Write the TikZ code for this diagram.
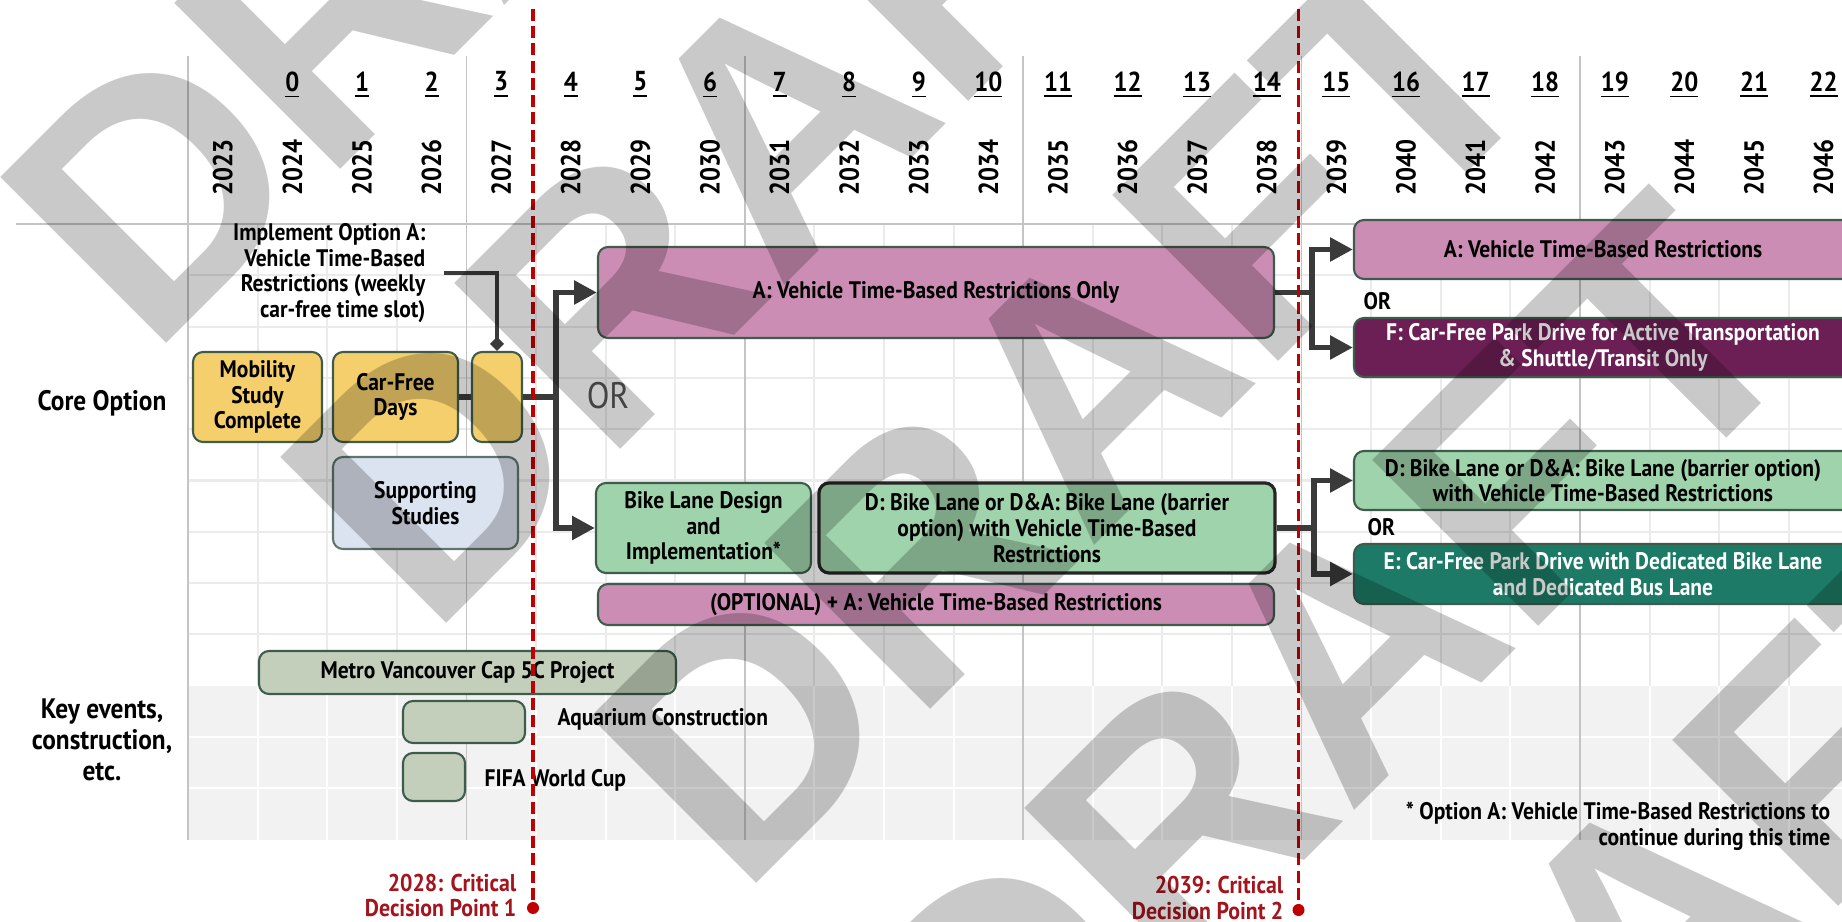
\documentclass[tikz,border=0pt]{standalone}
\usepackage{fontspec}
\setmainfont{PT Sans}[FakeStretch=0.9]
\newfontfamily\wmfont{Liberation Sans}
\usetikzlibrary{arrows.meta}

\definecolor{gridmajor}{HTML}{C4C4C4}
\definecolor{gridminor}{HTML}{EBEBEB}
\definecolor{bandgrey}{HTML}{F2F2F2}
\definecolor{edge}{HTML}{3E5B4C}
\definecolor{yellowbox}{HTML}{F5CF6C}
\definecolor{studybox}{HTML}{DCE3F0}
\definecolor{pinkbox}{HTML}{CC8DB5}
\definecolor{greenbox}{HTML}{9FD3AC}
\definecolor{sagebox}{HTML}{C3CFBA}
\definecolor{purplebox}{HTML}{6C1F55}
\definecolor{tealbox}{HTML}{1C7A66}
\definecolor{linkgrey}{HTML}{3A3A3A}
\definecolor{critred}{HTML}{C00000}
\definecolor{critlabel}{HTML}{A3141C}
\definecolor{ortext}{HTML}{555555}

\begin{document}
\begin{tikzpicture}[x=0.01cm, y=-0.01cm,
  box/.style={draw=edge, line width=0.6pt, rounded corners=0.1cm, align=center, inner sep=0pt, font=\bfseries\fontsize{6.8}{7.3}\selectfont},
  boxsize/.style 2 args={minimum width=#1*\px, minimum height=#2*\px},
  yearlab/.style={rotate=90, font=\bfseries\fontsize{7.8}{8}\selectfont},
  idxlab/.style={font=\bfseries\fontsize{7.8}{8}\selectfont},
  rowlab/.style={align=center, font=\bfseries\fontsize{8}{8.8}\selectfont},
  notelab/.style={align=right, inner sep=0pt, font=\bfseries\fontsize{6.8}{7.3}\selectfont},
  critlab/.style={align=right, inner sep=0pt, text=critlabel, font=\bfseries\fontsize{6.9}{7.3}\selectfont},
  trunk/.style={draw=linkgrey, line width=1.7pt},
  branch/.style={trunk, -{Triangle[length=6.5pt, width=6.5pt]}},
  notelink/.style={draw=linkgrey, line width=0.9pt, -{Diamond[length=4pt, width=4pt]}},
  critline/.style={draw=critred, line width=1.1pt, dash pattern=on 3.4pt off 1.5pt},
  critdot/.style={circle, fill=critred, inner sep=0pt, minimum size=12*\px},
  wmark/.style={rotate=45, anchor=base west, inner sep=0pt, text=black, text opacity=0.21, font=\wmfont\bfseries\fontsize{97}{97}\selectfont}
]
\def\px{0.01cm} % one pixel of the page

% Page frame
\useasboundingbox (0,0) rectangle (1842,922);

% Shade the key events band
\fill[bandgrey] (188,685.7) rectangle (1842,839.6);

% Light grid in the timeline body
\draw[gridminor, line width=0.6pt] (257.6,224) -- (257.6,685.7) (327.2,224) -- (327.2,685.7) (396.8,224) -- (396.8,685.7)
  (536,224) -- (536,685.7) (605.6,224) -- (605.6,685.7) (675.2,224) -- (675.2,685.7)
  (814.4,224) -- (814.4,685.7) (884,224) -- (884,685.7) (953.6,224) -- (953.6,685.7)
  (1092.8,224) -- (1092.8,685.7) (1162.4,224) -- (1162.4,685.7) (1232,224) -- (1232,685.7)
  (1371.2,224) -- (1371.2,685.7) (1440.8,224) -- (1440.8,685.7) (1510.4,224) -- (1510.4,685.7)
  (1649.6,224) -- (1649.6,685.7) (1719.2,224) -- (1719.2,685.7) (1788.8,224) -- (1788.8,685.7);
\draw[gridminor, line width=0.6pt] (188,275.3) -- (1842,275.3) (188,326.6) -- (1842,326.6) (188,377.9) -- (1842,377.9)
  (188,429.2) -- (1842,429.2) (188,480.5) -- (1842,480.5) (188,531.8) -- (1842,531.8)
  (188,583.1) -- (1842,583.1) (188,634.4) -- (1842,634.4);
\draw[white, line width=0.6pt] (257.6,685.7) -- (257.6,839.6) (327.2,685.7) -- (327.2,839.6) (396.8,685.7) -- (396.8,839.6)
  (536,685.7) -- (536,839.6) (605.6,685.7) -- (605.6,839.6) (675.2,685.7) -- (675.2,839.6)
  (814.4,685.7) -- (814.4,839.6) (884,685.7) -- (884,839.6) (953.6,685.7) -- (953.6,839.6)
  (1092.8,685.7) -- (1092.8,839.6) (1162.4,685.7) -- (1162.4,839.6) (1232,685.7) -- (1232,839.6)
  (1371.2,685.7) -- (1371.2,839.6) (1440.8,685.7) -- (1440.8,839.6) (1510.4,685.7) -- (1510.4,839.6)
  (1649.6,685.7) -- (1649.6,839.6) (1719.2,685.7) -- (1719.2,839.6) (1788.8,685.7) -- (1788.8,839.6)
  (188,737) -- (1842,737) (188,788.3) -- (1842,788.3);

% Four-year lines and the header rule
\draw[gridmajor, line width=0.5pt] (188,56) -- (188,839.6) (466.4,56) -- (466.4,839.6) (744.8,56) -- (744.8,839.6)
  (1023.2,56) -- (1023.2,839.6) (1301.6,56) -- (1301.6,839.6) (1580,56) -- (1580,839.6);
\draw[gridmajor, line width=0.6pt] (16,224) -- (1842,224);

% Year and index header
\node[yearlab] (yr2023) at (222.8,168) {2023};
\node[yearlab] (yr2024) at (292.4,168) {2024};
\node[yearlab] (yr2025) at (362,168) {2025};
\node[yearlab] (yr2026) at (431.6,168) {2026};
\node[yearlab] (yr2027) at (501.2,168) {2027};
\node[yearlab] (yr2028) at (570.8,168) {2028};
\node[yearlab] (yr2029) at (640.4,168) {2029};
\node[yearlab] (yr2030) at (710,168) {2030};
\node[yearlab] (yr2031) at (779.6,168) {2031};
\node[yearlab] (yr2032) at (849.2,168) {2032};
\node[yearlab] (yr2033) at (918.8,168) {2033};
\node[yearlab] (yr2034) at (988.4,168) {2034};
\node[yearlab] (yr2035) at (1058,168) {2035};
\node[yearlab] (yr2036) at (1127.6,168) {2036};
\node[yearlab] (yr2037) at (1197.2,168) {2037};
\node[yearlab] (yr2038) at (1266.8,168) {2038};
\node[yearlab] (yr2039) at (1336.4,168) {2039};
\node[yearlab] (yr2040) at (1406,168) {2040};
\node[yearlab] (yr2041) at (1475.6,168) {2041};
\node[yearlab] (yr2042) at (1545.2,168) {2042};
\node[yearlab] (yr2043) at (1614.8,168) {2043};
\node[yearlab] (yr2044) at (1684.4,168) {2044};
\node[yearlab] (yr2045) at (1754,168) {2045};
\node[yearlab] (yr2046) at (1823.6,168) {2046};
\node[idxlab] (idx0) at (292.4,85) {\underline{0}};
\node[idxlab] (idx1) at (362,85) {\underline{1}};
\node[idxlab] (idx2) at (431.6,85) {\underline{2}};
\node[idxlab] (idx3) at (501.2,85) {\underline{3}};
\node[idxlab] (idx4) at (570.8,85) {\underline{4}};
\node[idxlab] (idx5) at (640.4,85) {\underline{5}};
\node[idxlab] (idx6) at (710,85) {\underline{6}};
\node[idxlab] (idx7) at (779.6,85) {\underline{7}};
\node[idxlab] (idx8) at (849.2,85) {\underline{8}};
\node[idxlab] (idx9) at (918.8,85) {\underline{9}};
\node[idxlab] (idx10) at (988.4,85) {\underline{10}};
\node[idxlab] (idx11) at (1058,85) {\underline{11}};
\node[idxlab] (idx12) at (1127.6,85) {\underline{12}};
\node[idxlab] (idx13) at (1197.2,85) {\underline{13}};
\node[idxlab] (idx14) at (1266.8,85) {\underline{14}};
\node[idxlab] (idx15) at (1336.4,85) {\underline{15}};
\node[idxlab] (idx16) at (1406,85) {\underline{16}};
\node[idxlab] (idx17) at (1475.6,85) {\underline{17}};
\node[idxlab] (idx18) at (1545.2,85) {\underline{18}};
\node[idxlab] (idx19) at (1614.8,85) {\underline{19}};
\node[idxlab] (idx20) at (1684.4,85) {\underline{20}};
\node[idxlab] (idx21) at (1754,85) {\underline{21}};
\node[idxlab] (idx22) at (1823.6,85) {\underline{22}};

% Row labels
\node[rowlab] (core) at (102,403) {Core Option};
\node[rowlab] (keyev) at (102,740) {Key events,\\construction,\\etc.};

% Core option boxes up to 2028
\node[box, boxsize={129}{90}, fill=yellowbox] (mobility) at (257.5,397) {Mobility\\Study\\Complete};
\node[box, boxsize={125}{90}, fill=yellowbox] (carfree) at (395.5,397) {Car-Free\\Days};
\node[box, boxsize={50}{90}, fill=yellowbox] (implbox) at (497,397) {};
\node[box, boxsize={185}{92}, fill=studybox, draw=edge!80!studybox] (studies) at (425.5,503) {Supporting\\Studies};
\node[notelab, anchor=east] (impl) at (426,273) {Implement Option A:\\Vehicle Time-Based\\Restrictions (weekly\\car-free time slot)};

% Options 2028 to 2039
\node[box, boxsize={676}{91}, fill=pinkbox] (aonly) at (936,292.5) {A: Vehicle Time-Based Restrictions Only};
\node[rowlab, text=ortext, font=\fontsize{10.5}{11}\selectfont] (ormid) at (608,396) {OR};
\node[box, boxsize={215}{90}, fill=greenbox] (bikedesign) at (703.5,528) {Bike Lane Design\\and\\Implementation*};
\node[box, boxsize={456}{90}, fill=greenbox, draw=black!85, line width=0.9pt] (dmid) at (1047,528) {D: Bike Lane or D\&A: Bike Lane (barrier\\option) with Vehicle Time-Based\\Restrictions};
\node[box, boxsize={676}{41}, fill=pinkbox] (optional) at (936,604.5) {(OPTIONAL) + A: Vehicle Time-Based Restrictions};

% Options after 2039
\node[box, boxsize={498}{59}, fill=pinkbox] (aright) at (1603,249.5) {A: Vehicle Time-Based Restrictions};
\node[notelab, anchor=west] (ortop) at (1363,301) {OR};
\node[box, boxsize={498}{59}, fill=purplebox, text=white] (fright) at (1603,347.5) {F: Car-Free Park Drive for Active Transportation\\\& Shuttle/Transit Only};
\node[box, boxsize={498}{59}, fill=greenbox] (dright) at (1603,480.5) {D: Bike Lane or D\&A: Bike Lane (barrier option)\\with Vehicle Time-Based Restrictions};
\node[notelab, anchor=west] (orlow) at (1367,527) {OR};
\node[box, boxsize={498}{60}, fill=tealbox, text=white] (eright) at (1603,574) {E: Car-Free Park Drive with Dedicated Bike Lane\\and Dedicated Bus Lane};

% Key events
\node[box, boxsize={417}{43}, fill=sagebox] (metro) at (467.5,672.5) {Metro Vancouver Cap 5C Project};
\node[box, boxsize={122}{42}, fill=sagebox] (aquarium) at (464,722) {};
\node[notelab, anchor=west] (aqualab) at (557,719) {Aquarium Construction};
\node[box, boxsize={62}{48}, fill=sagebox] (fifa) at (434,777) {};
\node[notelab, anchor=west] (fifalab) at (484,780) {FIFA World Cup};
\node[notelab] (footnote) at (1618,826) {* Option A: Vehicle Time-Based Restrictions to\\continue during this time};

% Connectors
\coordinate (split1) at (556,397);
\coordinate (split2) at (1312,292.5);
\coordinate (split3) at (1314,528);
\draw[trunk] (carfree.east) -- (implbox.west);
\draw[trunk] (implbox.east) -- (split1);
\draw[branch] (split1) |- (aonly.west);
\draw[branch] (split1) |- (bikedesign.west);
\draw[trunk] (aonly.east) -- (split2);
\draw[branch] (split2) |- (aright.west);
\draw[branch] (split2) |- (fright.west);
\draw[trunk] (dmid.east) -- (split3);
\draw[branch] (split3) |- (dright.west);
\draw[branch] (split3) |- (eright.west);
\draw[notelink] ([xshift=18*\px]impl.east) -| (implbox.north);

% Critical decision points
\coordinate (cdp1top) at (533,9);
\coordinate (cdp2top) at (1298.5,9);
\node[critdot] (cdp1) at (533,908) {};
\node[critdot] (cdp2) at (1298.5,910) {};
\draw[critline] (cdp1top) -- (cdp1);
\draw[critline] (cdp2top) -- (cdp2);
\node[critlab, anchor=east] (cdp1lab) at (517,895.5) {2028: Critical\\Decision Point 1};
\node[critlab, anchor=east] (cdp2lab) at (1284,898) {2039: Critical\\Decision Point 2};

% Draft stamp over everything
\node[wmark] (draft1) at (150,360) {DRAFT};
\node[wmark] (draft2) at (430,640) {DRAFT};
\node[wmark] (draft3) at (740,900) {DRAFT};
\node[wmark] (draft4) at (1000,1165) {DRAFT};
\node[wmark] (draft5) at (1300,1445) {DRAFT};
\end{tikzpicture}
\end{document}
